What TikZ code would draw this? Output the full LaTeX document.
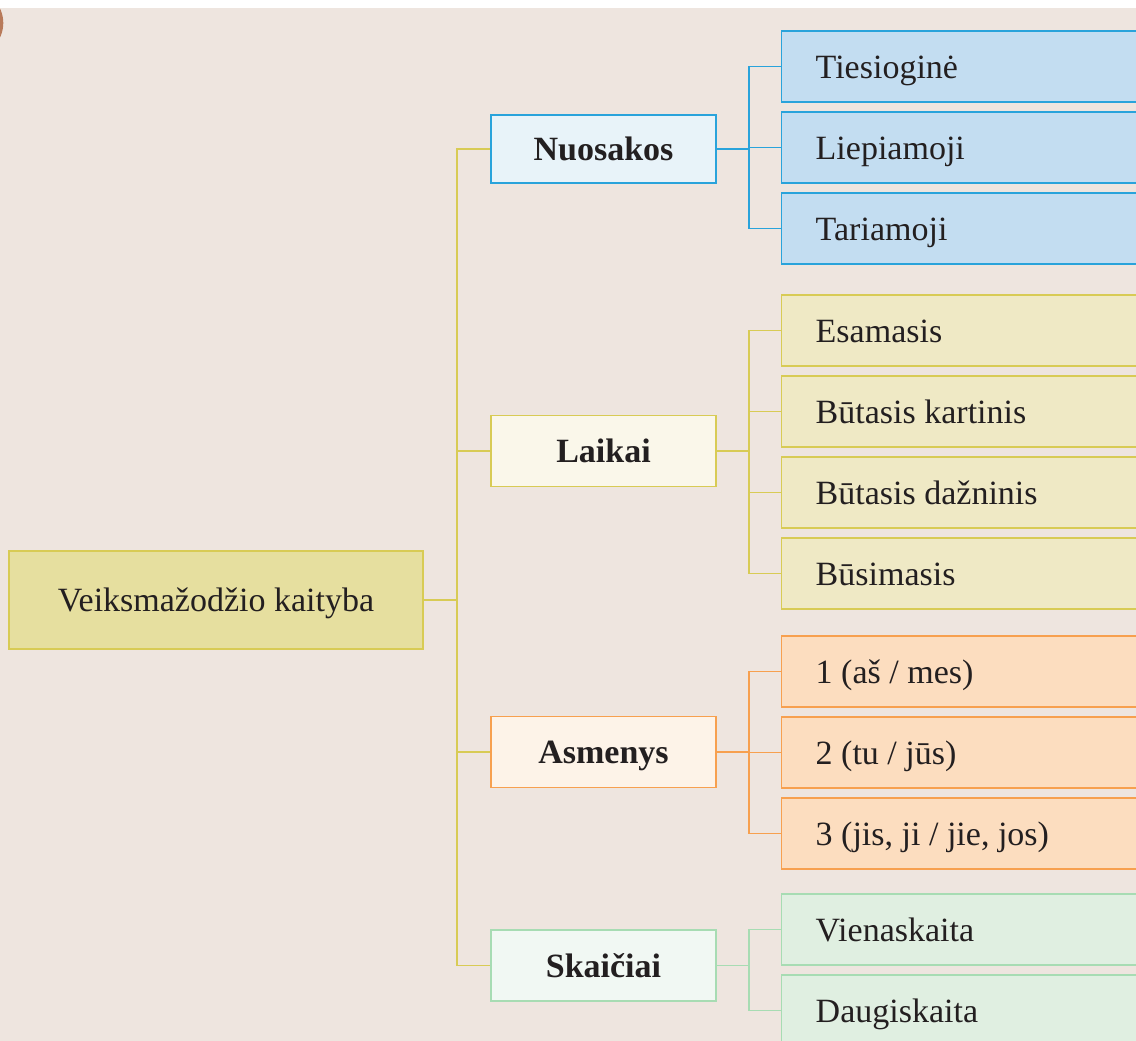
\documentclass[tikz,border=0pt]{standalone}
\usepackage{fontspec}
\setmainfont{Liberation Serif}
\definecolor{bgc}{HTML}{EEE5DF}
\definecolor{txt}{HTML}{231F20}
\definecolor{brownc}{HTML}{B87A5A}
\definecolor{bB}{HTML}{29A3DB}
\definecolor{bM}{HTML}{E8F3F9}
\definecolor{bL}{HTML}{C3DDF1}
\definecolor{yB}{HTML}{D8CB55}
\definecolor{yR}{HTML}{E6DF9F}
\definecolor{yM}{HTML}{FAF7EA}
\definecolor{yL}{HTML}{EFE9C5}
\definecolor{oB}{HTML}{F7A04F}
\definecolor{oM}{HTML}{FDF3E8}
\definecolor{oL}{HTML}{FCDDBF}
\definecolor{gB}{HTML}{A7DCB3}
\definecolor{gM}{HTML}{F1F8F3}
\definecolor{gL}{HTML}{E0EFE1}
\begin{document}
\begin{tikzpicture}[x=1pt,y=-1pt,
  box/.style={draw, line width=1.4pt, inner sep=0pt, text=txt, font=\fontsize{34}{40}\selectfont, text height=23pt, text depth=0pt},
  rootbox/.style={box, minimum width=414pt, minimum height=98pt, draw=yB, fill=yR},
  midbox/.style={box, minimum width=225pt, minimum height=71pt, font=\fontsize{34}{40}\selectfont\bfseries},
  leafbox/.style={box, anchor=west, minimum height=71pt, text width=400pt, align=flush left, inner xsep=34pt},
  conn/.style={line width=1.5pt}
]
\useasboundingbox (0,0) rectangle (1136,1041);
\clip (0,0) rectangle (1136,1041);
\fill[white] (0,0) rectangle (1136,8);
\fill[bgc] (0,8) rectangle (1136,1041);
\begin{scope}
  \clip (0,8) rectangle (100,100);
  \fill[brownc] (-30,23) circle (33.3pt);
\end{scope}

% root
\node[rootbox] (root) at (216,600) {Veiksmažodžio kaityba};

% middle boxes
\node[midbox, draw=bB, fill=bM, minimum height=68pt] (nuo) at (603.5,149) {Nuosakos};
\node[midbox, draw=yB, fill=yM] (lai) at (603.5,451) {Laikai};
\node[midbox, draw=oB, fill=oM] (asm) at (603.5,752) {Asmenys};
\node[midbox, draw=gB, fill=gM] (ska) at (603.5,965.5) {Skaičiai};

% leaves
\node[leafbox, draw=bB, fill=bL] (n1) at (781,66.5) {Tiesioginė};
\node[leafbox, draw=bB, fill=bL] (n2) at (781,147.5) {Liepiamoji};
\node[leafbox, draw=bB, fill=bL] (n3) at (781,228.5) {Tariamoji};

\node[leafbox, draw=yB, fill=yL] (l1) at (781,330.5) {Esamasis};
\node[leafbox, draw=yB, fill=yL] (l2) at (781,411.5) {Būtasis kartinis};
\node[leafbox, draw=yB, fill=yL] (l3) at (781,492.5) {Būtasis dažninis};
\node[leafbox, draw=yB, fill=yL] (l4) at (781,573.5) {Būsimasis};

\node[leafbox, draw=oB, fill=oL] (a1) at (781,671.5) {1 (aš / mes)};
\node[leafbox, draw=oB, fill=oL] (a2) at (781,752.5) {2 (tu / jūs)};
\node[leafbox, draw=oB, fill=oL] (a3) at (781,833.5) {3 (jis, ji / jie, jos)};

\node[leafbox, draw=gB, fill=gL] (s1) at (781,929.5) {Vienaskaita};
\node[leafbox, draw=gB, fill=gL] (s2) at (781,1010.5) {Daugiskaita};

% connectors
\coordinate (trunk) at (457,0);
\coordinate (bx) at (749,0);
\draw[conn, yB] (root.east) -- (root.east -| trunk);
\draw[conn, yB] (nuo.west) -- (nuo.west -| trunk) -- (ska.west -| trunk) -- (ska.west);
\draw[conn, yB] (lai.west) -- (lai.west -| trunk);
\draw[conn, yB] (asm.west) -- (asm.west -| trunk);

\draw[conn, bB] (nuo.east) -- (nuo.east -| bx);
\draw[conn, bB] (n1.west) -- (n1.west -| bx) -- (n3.west -| bx) -- (n3.west);
\draw[conn, bB] (n2.west) -- (n2.west -| bx);

\draw[conn, yB] (lai.east) -- (lai.east -| bx);
\draw[conn, yB] (l1.west) -- (l1.west -| bx) -- (l4.west -| bx) -- (l4.west);
\draw[conn, yB] (l2.west) -- (l2.west -| bx);
\draw[conn, yB] (l3.west) -- (l3.west -| bx);

\draw[conn, oB] (asm.east) -- (asm.east -| bx);
\draw[conn, oB] (a1.west) -- (a1.west -| bx) -- (a3.west -| bx) -- (a3.west);
\draw[conn, oB] (a2.west) -- (a2.west -| bx);

\draw[conn, gB] (ska.east) -- (ska.east -| bx);
\draw[conn, gB] (s1.west) -- (s1.west -| bx) -- (s2.west -| bx) -- (s2.west);
\end{tikzpicture}
\end{document}
